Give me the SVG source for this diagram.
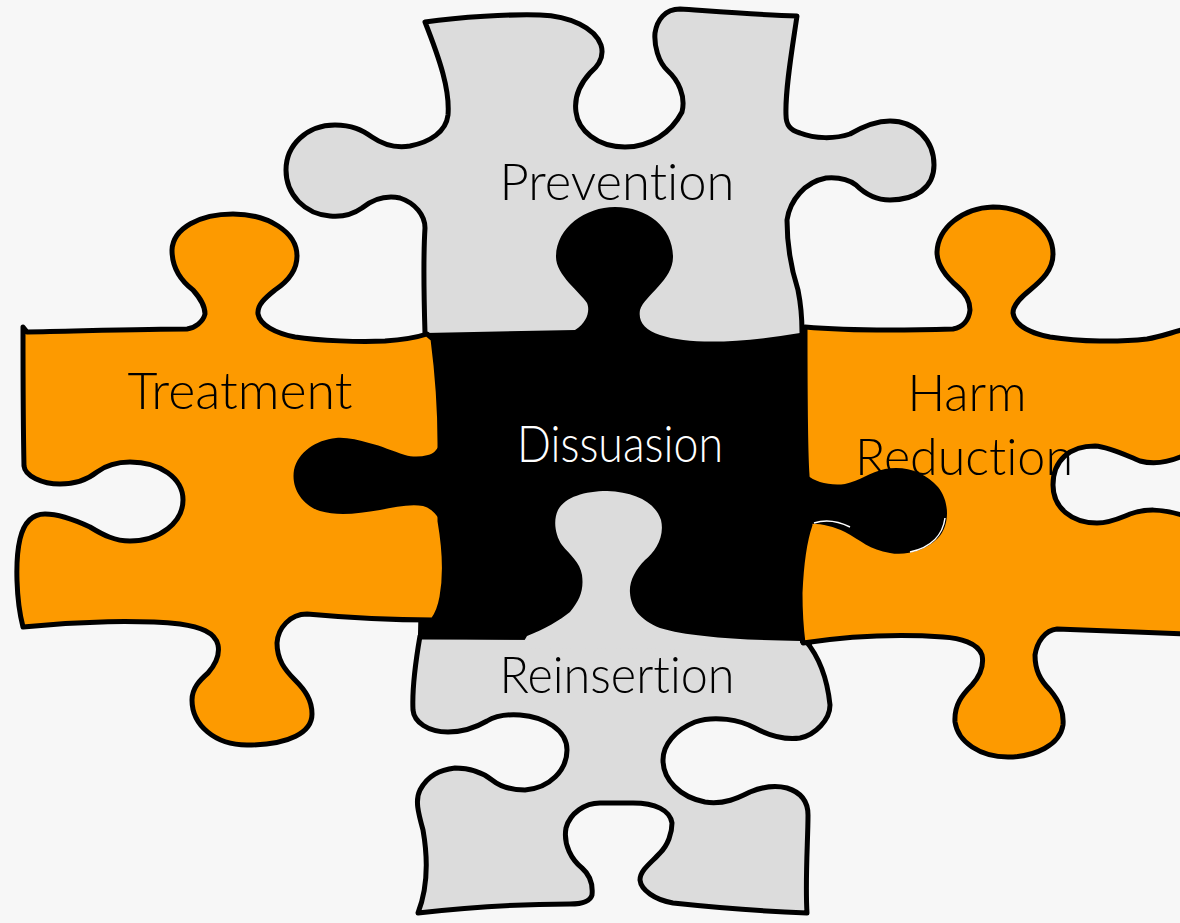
<svg xmlns="http://www.w3.org/2000/svg" width="1180" height="923" viewBox="0 0 1180 923">
<style>
.piece{stroke:#000;stroke-width:5;stroke-linejoin:round}
.gray{fill:#dcdcdc}
.orange{fill:#fd9a00}
.blk{fill:#000;stroke:none}
.lbl{font-family:"Lato","Open Sans","Liberation Sans",sans-serif;font-weight:300;font-size:51px;text-anchor:middle;font-variant-ligatures:none;font-feature-settings:"liga" 0,"clig" 0,"dlig" 0}
</style>
<rect width="1180" height="923" fill="#f7f7f7"/>
<g id="prevention">
<path class="piece gray" d="M425,22 C460,17 510,14 540,15 C570,16 595,28 601,45 C605,58 596,68 590,73 C580,84 574,98 576,112 C578,130 597,147 625,147 C650,147 671,133 682,112 C686,96 678,80 668,71 C658,62 654,45 655,33 C657,20 665,9 680,9 C710,11 760,15 797,16 C792,50 785,90 786,115 C786,125 790,130 800,133 C815,139 835,139 850,134 C862,127 875,121 890,121 C915,121 934,140 934,165 C934,188 915,200 890,200 C875,200 864,193 856,185 C848,179 838,177 826,178 C805,182 790,200 787,220 C787,240 790,265 798,290 C802,310 802,320 802,332 L802,352 L428,352 L425,333 C424,300 423,260 425,228 C425,215 415,203 400,198 C385,195 372,200 362,208 C352,215 340,217 330,216 C305,214 286,195 286,170 C286,145 307,125 335,125 C352,125 362,130 372,137 C385,146 398,148 410,146 C430,142 446,132 448,115 C450,90 440,60 425,22 Z"/>
</g>
<g id="reinsertion">
<path class="piece gray" d="M420,636 L805,640 C822,660 828,685 830,705 C830,720 815,735 800,738 C785,740 768,735 755,728 C740,720 715,715 695,722 C675,730 663,745 663,760 C663,780 680,797 705,802 C725,805 740,797 750,792 C762,787 775,785 787,788 C800,792 808,800 808,815 C808,840 805,880 807,913 C780,912 720,908 673,903 C655,900 641,890 640,880 C640,870 652,862 660,853 C668,845 672,833 672,823 C670,810 655,803 633,803 L600,803 C585,803 570,813 566,828 C563,845 572,860 582,868 C590,875 593,885 592,895 C590,902 580,904 570,904 C530,904 470,907 418,913 C425,895 430,870 423,830 C418,812 415,800 420,790 C428,775 440,770 455,768 C470,768 482,772 492,780 C502,788 512,790 525,790 C550,788 567,770 567,750 C567,730 545,717 520,715 C505,714 495,716 487,721 C475,728 462,732 448,732 C428,732 414,722 413,710 C412,690 415,665 420,636 Z"/>
</g>
<g id="dissuasion">
<path class="blk" d="M418,634 L425,333 L575,330 C588,322 590,310 587,303 C580,292 556,275 556,257 C556,228 585,207 615,207 C648,207 673,228 673,257 C673,280 645,295 640,310 C638,322 645,330 660,335 C690,345 740,343 800,333 L812,333 L812,645 L805,643 L700,640 L418,639.5 Z"/>
<path fill="#dcdcdc" d="M520,648 L527,636 C545,629 560,620 570,612 C580,600 584,590 582,575 C580,562 570,555 562,545 C555,535 553,520 558,510 C565,497 585,491 607,491 C635,492 655,502 661,520 C665,537 655,552 645,560 C635,570 629,582 630,593 C631,608 640,620 660,628 C690,637 740,640 800,641 L800,650 Z"/>
</g>
<g id="treatment">
<path class="piece orange" d="M23,327 L27,332 C80,331 150,329 187,329 C195,328 203,322 205,314 C205,305 200,298 193,290 C180,280 172,268 172,250 C173,228 200,214 233,214 C268,214 297,232 297,256 C297,272 287,282 275,290 C265,298 257,305 258,314 C260,325 275,333 295,337 C320,341 360,342 385,341 C400,340 415,338 427,334 L433,339 C437,370 440,400 440,443 C440,480 440,500 440,521 C445,550 446,575 442,597 C440,608 437,615 433,620 C390,620 340,617 307,614 C290,614 278,628 277,643 C277,660 285,670 295,680 C305,690 312,700 312,714 C312,732 290,745 247,745 C215,745 192,725 192,700 C192,688 200,680 208,673 C215,665 220,655 218,645 C215,632 200,627 180,624 C140,620 80,621 23,627 C16,600 15,560 20,539 C24,522 32,514 45,514 C60,514 75,520 90,527 C103,535 115,541 130,541 C160,541 183,522 183,500 C183,478 160,462 130,462 C115,462 105,466 97,472 C87,480 75,484 60,484 C42,484 25,476 24,466 C23,420 23,370 23,327 Z"/>
</g>
<g id="harm-reduction">
<path class="piece orange" d="M805,327 C850,331 920,330 953,329 C963,327 969,320 970,310 C970,300 965,293 958,287 C945,276 937,265 937,252 C938,228 962,208 993,207 C1028,207 1053,230 1053,254 C1053,270 1042,280 1030,290 C1020,298 1013,305 1013,313 C1015,325 1030,333 1050,337 C1080,342 1120,342 1147,339 C1160,337 1170,333 1185,329 L1185,455 C1170,462 1155,465 1140,461 C1125,455 1110,447 1095,446 C1070,446 1053,460 1053,485 C1053,508 1072,523 1097,523 C1110,523 1120,518 1130,514 C1145,509 1160,508 1185,516 L1185,634 C1150,633 1090,630 1057,629 C1045,630 1037,642 1035,655 C1035,670 1040,680 1050,690 C1060,702 1064,712 1063,725 C1060,745 1035,757 1008,757 C980,757 958,742 955,722 C954,705 962,695 972,685 C980,676 984,665 982,655 C978,643 960,638 943,637 C900,634 850,636 803,643 C800,620 800,600 800,593 C801,570 803,545 810,525 C808,510 807,490 807,475 C805,450 805,400 805,327 Z"/>
</g>
<g id="tabs">
<path class="blk" d="M450,440 L440,444 C437,450 433,454 428,455 C420,457 412,457 405,455 C392,451 382,446 369,443 C358,440 346,437 336,438 C316,440 298,452 294,470 C291,488 302,505 320,511 C337,516 357,514 380,510 C395,507 410,504 423,506 C430,508 436,513 440,521 L450,530 Z"/>
<path class="blk" d="M800,470 L807,475 C815,482 830,486 845,484 C860,481 870,472 885,469 C905,465 925,472 938,487 C950,502 950,525 938,538 C925,551 905,556 890,553 C870,550 860,540 845,532 C830,525 815,522 800,525 Z"/>
<path d="M814,523 C826,519 838,521 850,527 M945,518 C943,534 932,547 910,552" fill="none" stroke="#fff" stroke-width="1.5"/>
</g>
<g id="labels">
<text class="lbl" x="617" y="200" textLength="235" lengthAdjust="spacingAndGlyphs">Prevention</text>
<text class="lbl" x="240" y="409" textLength="225" lengthAdjust="spacingAndGlyphs">Treatment</text>
<text class="lbl" x="620" y="462" textLength="206" lengthAdjust="spacingAndGlyphs" fill="#fff">Dissuasion</text>
<text class="lbl" x="967" y="411" textLength="119" lengthAdjust="spacingAndGlyphs">Harm</text>
<text class="lbl" x="964" y="475" textLength="218" lengthAdjust="spacingAndGlyphs">Reduction</text>
<text class="lbl" x="617" y="693" textLength="235" lengthAdjust="spacingAndGlyphs">Reinsertion</text>
</g>
</svg>
